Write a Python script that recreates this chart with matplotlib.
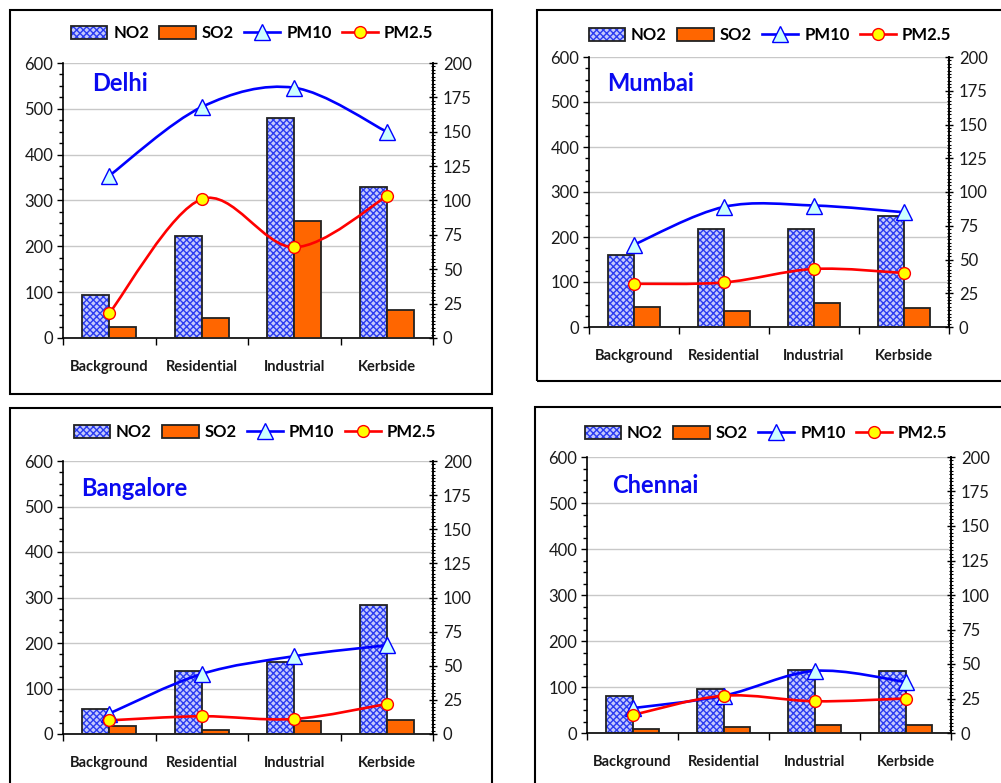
import matplotlib
matplotlib.use('Agg')
import matplotlib.pyplot as plt
from matplotlib.path import Path
from matplotlib.patches import PathPatch, Patch, Rectangle
from matplotlib.lines import Line2D
from matplotlib.legend_handler import HandlerTuple
from matplotlib.ticker import MultipleLocator
import numpy as np

plt.rcParams['font.family'] = ['Lato', 'DejaVu Sans']
plt.rcParams['hatch.linewidth'] = 1.0

categories = ['Background', 'Residential', 'Industrial', 'Kerbside']
cities = ['Delhi', 'Mumbai', 'Bangalore', 'Chennai']

# left axis (bars)
delhi_no2 = [94, 223, 479, 330]
delhi_so2 = [25, 44, 256, 62]
mumbai_no2 = [160, 218, 218, 247]
mumbai_so2 = [45, 36, 53, 42]
bangalore_no2 = [56, 139, 159, 284]
bangalore_so2 = [18, 9, 28, 31]
chennai_no2 = [81, 96, 136, 135]
chennai_so2 = [8, 12, 18, 18]

# right axis (lines)
delhi_pm10 = [118, 168, 182, 150]
delhi_pm25 = [18, 101, 66, 103]
mumbai_pm10 = [61, 89, 90, 85]
mumbai_pm25 = [32, 33, 43, 40]
bangalore_pm10 = [15, 44, 57, 65]
bangalore_pm25 = [10, 13, 11, 22]
chennai_pm10 = [18, 27, 45, 37]
chennai_pm25 = [13, 27, 23, 25]

W, H = 1001, 783

# pixel layout: axes box (l, t, r, b), panel border (l, t, r, b), legend centre, title pos (axes frac)
layout = {
    'Delhi':     dict(ax=(63, 63, 433, 338), box=(10, 10, 492, 394), leg=(252, 33), title=(0.078, 0.968)),
    'Mumbai':    dict(ax=(589, 57, 949, 327), box=(537, 10, 1010, 381), leg=(770, 35), title=(0.05, 0.944)),
    'Bangalore': dict(ax=(63, 461, 433, 734), box=(10, 408, 492, 800), leg=(255, 432), title=(0.05, 0.94)),
    'Chennai':   dict(ax=(587, 457, 951, 733), box=(535, 407, 1010, 800), leg=(766, 433), title=(0.07, 0.94)),
}

data = {
    'Delhi': (delhi_no2, delhi_so2, delhi_pm10, delhi_pm25),
    'Mumbai': (mumbai_no2, mumbai_so2, mumbai_pm10, mumbai_pm25),
    'Bangalore': (bangalore_no2, bangalore_so2, bangalore_pm10, bangalore_pm25),
    'Chennai': (chennai_no2, chennai_so2, chennai_pm10, chennai_pm25),
}

NO2_FACE = '#c4c9fb'
NO2_HATCH = '#2a3cf0'
SO2_COL = '#ff6600'
TXT = '#1a1a1a'


def smooth_path(xs, ys):
    # excel-like smoothed line: cubic bezier through the points
    n = len(xs)
    verts = [(xs[0], ys[0])]
    codes = [Path.MOVETO]
    for i in range(n - 1):
        x0, y0 = (xs[i - 1], ys[i - 1]) if i > 0 else (xs[i], ys[i])
        x3, y3 = (xs[i + 2], ys[i + 2]) if i + 2 < n else (xs[i + 1], ys[i + 1])
        c1 = (xs[i] + (xs[i + 1] - x0) / 6.0, ys[i] + (ys[i + 1] - y0) / 6.0)
        c2 = (xs[i + 1] - (x3 - xs[i]) / 6.0, ys[i + 1] - (y3 - ys[i]) / 6.0)
        verts += [c1, c2, (xs[i + 1], ys[i + 1])]
        codes += [Path.CURVE4] * 3
    return Path(verts, codes)


fig = plt.figure(figsize=(W / 100, H / 100), dpi=100)

x = np.arange(len(categories))
bw = 0.29

for city in cities:
    no2, so2, pm10, pm25 = data[city]
    lay = layout[city]
    l, t, r, b = lay['ax']
    ax = fig.add_axes([l / W, 1 - b / H, (r - l) / W, (b - t) / H])
    ax2 = ax.twinx()

    # panel frame
    bl, bt, br, bb = lay['box']
    fig.add_artist(Rectangle((bl / W, 1 - bb / H), (br - bl) / W, (bb - bt) / H,
                             transform=fig.transFigure, fill=False,
                             edgecolor='black', lw=1.5))

    ax.bar(x - bw / 2, no2, bw, color=NO2_FACE, edgecolor=NO2_HATCH, hatch='xxxxx', lw=0, zorder=2)
    ax.bar(x - bw / 2, no2, bw, fill=False, edgecolor='#222222', lw=1.3, zorder=3)
    ax.bar(x + bw / 2, so2, bw, color=SO2_COL, edgecolor='#222222', lw=1.3, zorder=3)

    ax.set_xlim(-0.5, 3.5)
    ax.set_ylim(0, 600)
    ax2.set_ylim(0, 200)

    ax2.add_patch(PathPatch(smooth_path(x, pm10), fill=False, edgecolor='#0000ff', lw=1.9, zorder=3))
    ax2.plot(x, pm10, ls='none', marker='^', ms=11, mfc='#ccffff', mec='#0000ff', mew=1.0, zorder=4)
    ax2.add_patch(PathPatch(smooth_path(x, pm25), fill=False, edgecolor='#ff0000', lw=1.9, zorder=3))
    ax2.plot(x, pm25, ls='none', marker='o', ms=8.5, mfc='#ffff00', mec='#ff0000', mew=1.0, zorder=4)

    # axes styling
    ax.yaxis.set_major_locator(MultipleLocator(100))
    ax.yaxis.set_minor_locator(MultipleLocator(25))
    ax.grid(axis='y', color='#c8c8c8', lw=1.0, zorder=0)
    ax.set_axisbelow(True)
    ax.tick_params(axis='y', which='major', length=4, width=1, labelsize=12, pad=3, labelcolor=TXT)
    ax.tick_params(axis='y', which='minor', length=3, width=1)

    ax.set_xticks([-0.5, 0.5, 1.5, 2.5, 3.5])
    ax.set_xticklabels([])
    ax.set_xticks(x, minor=True)
    ax.set_xticklabels(categories, minor=True, fontsize=10.5, fontweight='bold', color=TXT)
    ax.tick_params(axis='x', which='major', length=5, width=1)
    ax.tick_params(axis='x', which='minor', length=0, pad=16)

    ax2.yaxis.set_major_locator(MultipleLocator(25))
    ax2.yaxis.set_minor_locator(MultipleLocator(2.5))
    ax2.tick_params(axis='y', which='major', direction='inout', length=6, width=1, labelsize=12, pad=4,
                    labelcolor=TXT)
    ax2.tick_params(axis='y', which='minor', direction='inout', length=3, width=0.8)

    for a in (ax, ax2):
        a.spines['top'].set_visible(False)
        for s in ('left', 'right', 'bottom'):
            a.spines[s].set_linewidth(1.2)
    ax2.spines['left'].set_visible(False)
    ax2.spines['bottom'].set_visible(False)

    tx, ty = lay['title']
    ax.text(tx, ty, city, transform=ax.transAxes, ha='left', va='top',
            fontsize=17, fontweight='bold', color='#0a0af0', zorder=5)

    handles = [
        (Patch(facecolor=NO2_FACE, edgecolor=NO2_HATCH, hatch='xxxxx', lw=0),
         Patch(fill=False, edgecolor='#222222', lw=1.3)),
        Patch(facecolor=SO2_COL, edgecolor='#222222', lw=1.3),
        Line2D([], [], color='#0000ff', lw=1.9, marker='^', ms=11, mfc='#ccffff', mec='#0000ff'),
        Line2D([], [], color='#ff0000', lw=1.9, marker='o', ms=8.5, mfc='#ffff00', mec='#ff0000'),
    ]
    lx, ly = lay['leg']
    fig.legend(handles, ['NO2', 'SO2', 'PM10', 'PM2.5'], loc='center',
               bbox_to_anchor=(lx / W, 1 - ly / H), ncol=4, frameon=False,
               prop={'weight': 'bold', 'size': 12}, handlelength=2.2, handleheight=0.8,
               handletextpad=0.35, columnspacing=0.6, borderpad=0,
               handler_map={tuple: HandlerTuple(ndivide=1)})

fig.savefig('out.png', dpi=100)
